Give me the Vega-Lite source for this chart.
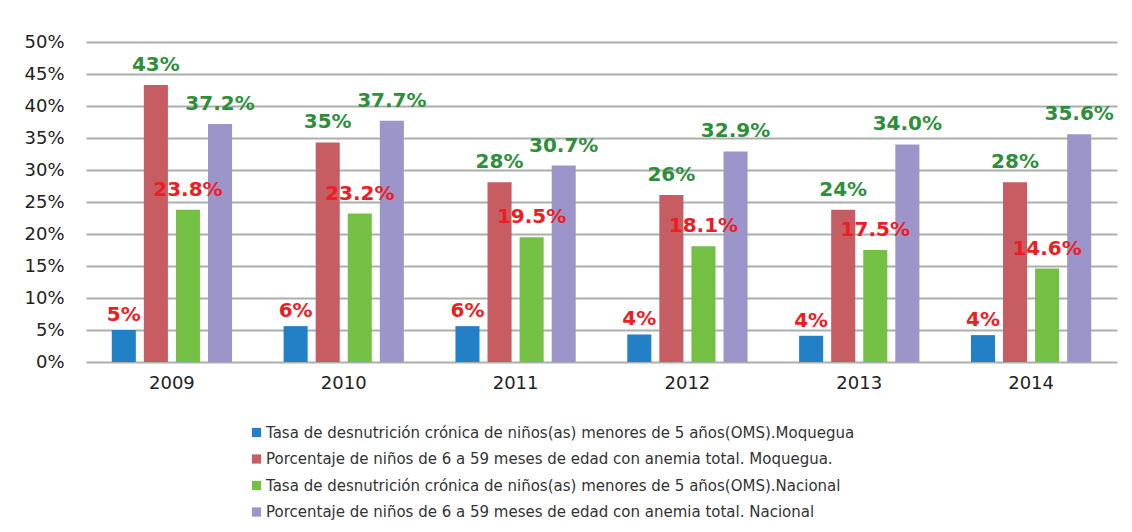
{
  "$schema": "https://vega.github.io/schema/vega-lite/v6.json",
  "width": 1031,
  "height": 320,
  "autosize": {"type": "none"},
  "padding": {"left": 86, "top": 42, "right": 15, "bottom": 170},
  "background": "white",
  "config": {
    "view": {"stroke": null},
    "font": "DejaVu Sans",
    "axis": {"labelFont": "DejaVu Sans", "labelColor": "#222222"}
  },
  "data": {
    "values": [
      {"year": "2009", "series": "Tasa de desnutrición crónica de niños(as) menores de 5 años(OMS).Moquegua", "value": 5.0, "label": "5%"},
      {"year": "2009", "series": "Porcentaje de niños de 6 a 59 meses de edad con anemia total. Moquegua.", "value": 43.3, "label": "43%"},
      {"year": "2009", "series": "Tasa de desnutrición crónica de niños(as) menores de 5 años(OMS).Nacional", "value": 23.8, "label": "23.8%"},
      {"year": "2009", "series": "Porcentaje de niños de 6 a 59 meses de edad con anemia total. Nacional", "value": 37.2, "label": "37.2%"},
      {"year": "2010", "series": "Tasa de desnutrición crónica de niños(as) menores de 5 años(OMS).Moquegua", "value": 5.6, "label": "6%"},
      {"year": "2010", "series": "Porcentaje de niños de 6 a 59 meses de edad con anemia total. Moquegua.", "value": 34.3, "label": "35%"},
      {"year": "2010", "series": "Tasa de desnutrición crónica de niños(as) menores de 5 años(OMS).Nacional", "value": 23.2, "label": "23.2%"},
      {"year": "2010", "series": "Porcentaje de niños de 6 a 59 meses de edad con anemia total. Nacional", "value": 37.7, "label": "37.7%"},
      {"year": "2011", "series": "Tasa de desnutrición crónica de niños(as) menores de 5 años(OMS).Moquegua", "value": 5.6, "label": "6%"},
      {"year": "2011", "series": "Porcentaje de niños de 6 a 59 meses de edad con anemia total. Moquegua.", "value": 28.1, "label": "28%"},
      {"year": "2011", "series": "Tasa de desnutrición crónica de niños(as) menores de 5 años(OMS).Nacional", "value": 19.5, "label": "19.5%"},
      {"year": "2011", "series": "Porcentaje de niños de 6 a 59 meses de edad con anemia total. Nacional", "value": 30.7, "label": "30.7%"},
      {"year": "2012", "series": "Tasa de desnutrición crónica de niños(as) menores de 5 años(OMS).Moquegua", "value": 4.3, "label": "4%"},
      {"year": "2012", "series": "Porcentaje de niños de 6 a 59 meses de edad con anemia total. Moquegua.", "value": 26.1, "label": "26%"},
      {"year": "2012", "series": "Tasa de desnutrición crónica de niños(as) menores de 5 años(OMS).Nacional", "value": 18.1, "label": "18.1%"},
      {"year": "2012", "series": "Porcentaje de niños de 6 a 59 meses de edad con anemia total. Nacional", "value": 32.9, "label": "32.9%"},
      {"year": "2013", "series": "Tasa de desnutrición crónica de niños(as) menores de 5 años(OMS).Moquegua", "value": 4.1, "label": "4%"},
      {"year": "2013", "series": "Porcentaje de niños de 6 a 59 meses de edad con anemia total. Moquegua.", "value": 23.8, "label": "24%"},
      {"year": "2013", "series": "Tasa de desnutrición crónica de niños(as) menores de 5 años(OMS).Nacional", "value": 17.5, "label": "17.5%"},
      {"year": "2013", "series": "Porcentaje de niños de 6 a 59 meses de edad con anemia total. Nacional", "value": 34.0, "label": "34.0%"},
      {"year": "2014", "series": "Tasa de desnutrición crónica de niños(as) menores de 5 años(OMS).Moquegua", "value": 4.2, "label": "4%"},
      {"year": "2014", "series": "Porcentaje de niños de 6 a 59 meses de edad con anemia total. Moquegua.", "value": 28.1, "label": "28%"},
      {"year": "2014", "series": "Tasa de desnutrición crónica de niños(as) menores de 5 años(OMS).Nacional", "value": 14.6, "label": "14.6%"},
      {"year": "2014", "series": "Porcentaje de niños de 6 a 59 meses de edad con anemia total. Nacional", "value": 35.6, "label": "35.6%"}
    ]
  },
  "encoding": {
    "x": {
      "field": "year", "type": "nominal",
      "scale": {"paddingInner": 0.3, "paddingOuter": 0.15},
      "axis": {"title": null, "labelAngle": 0, "labelFontSize": 18, "labelPadding": 12, "ticks": false, "domain": false, "labelColor": "#222222"}
    },
    "xOffset": {
      "field": "series", "type": "nominal",
      "scale": {
        "domain": [
          "Tasa de desnutrición crónica de niños(as) menores de 5 años(OMS).Moquegua",
          "Porcentaje de niños de 6 a 59 meses de edad con anemia total. Moquegua.",
          "Tasa de desnutrición crónica de niños(as) menores de 5 años(OMS).Nacional",
          "Porcentaje de niños de 6 a 59 meses de edad con anemia total. Nacional"
        ],
        "paddingInner": 0.25, "paddingOuter": 0
      }
    },
    "y": {
      "field": "value", "type": "quantitative",
      "scale": {"domain": [0, 50]},
      "axis": {
        "title": null, "values": [0, 5, 10, 15, 20, 25, 30, 35, 40, 45, 50],
        "labelExpr": "datum.value + '%'", "labelFontSize": 18, "labelPadding": 22,
        "ticks": false, "domain": false, "gridColor": "#adadad", "gridWidth": 2, "labelColor": "#222222"
      }
    }
  },
  "layer": [
    {
      "mark": {"type": "bar"},
      "encoding": {
        "color": {
          "field": "series", "type": "nominal",
          "scale": {
            "domain": [
              "Tasa de desnutrición crónica de niños(as) menores de 5 años(OMS).Moquegua",
              "Porcentaje de niños de 6 a 59 meses de edad con anemia total. Moquegua.",
              "Tasa de desnutrición crónica de niños(as) menores de 5 años(OMS).Nacional",
              "Porcentaje de niños de 6 a 59 meses de edad con anemia total. Nacional"
            ],
            "range": ["#2280c6", "#c75c63", "#74c045", "#9b95c9"]
          },
          "legend": {
            "title": null, "orient": "none", "legendX": 163, "legendY": 383,
            "direction": "vertical", "symbolType": "square", "symbolSize": 85,
            "symbolStrokeWidth": 0, "labelFontSize": 15, "labelLimit": 900,
            "labelOffset": 2, "rowPadding": 10.5, "labelColor": "#333333", "labelFont": "DejaVu Sans"
          }
        }
      }
    },
    {
      "transform": [{"filter": "indexof(datum.series, 'Tasa') === 0 && indexof(datum.series, 'Moquegua') > 0"}],
      "mark": {"type": "text", "baseline": "alphabetic", "dy": -9, "fontSize": 20, "fontWeight": "bold", "font": "DejaVu Sans", "color": "#ee1c25"},
      "encoding": {"text": {"field": "label"}}
    },
    {
      "transform": [{"filter": "!(indexof(datum.series, 'Tasa') === 0 && indexof(datum.series, 'Moquegua') > 0)"}],
      "mark": {"type": "text", "baseline": "alphabetic", "dy": -14, "fontSize": 20, "fontWeight": "bold", "font": "DejaVu Sans"},
      "encoding": {
        "text": {"field": "label"},
        "color": {"condition": {"test": "indexof(datum.series, 'Porcentaje') === 0", "value": "#2e8f3a"}, "value": "#ee1c25"}
      }
    }
  ]
}
